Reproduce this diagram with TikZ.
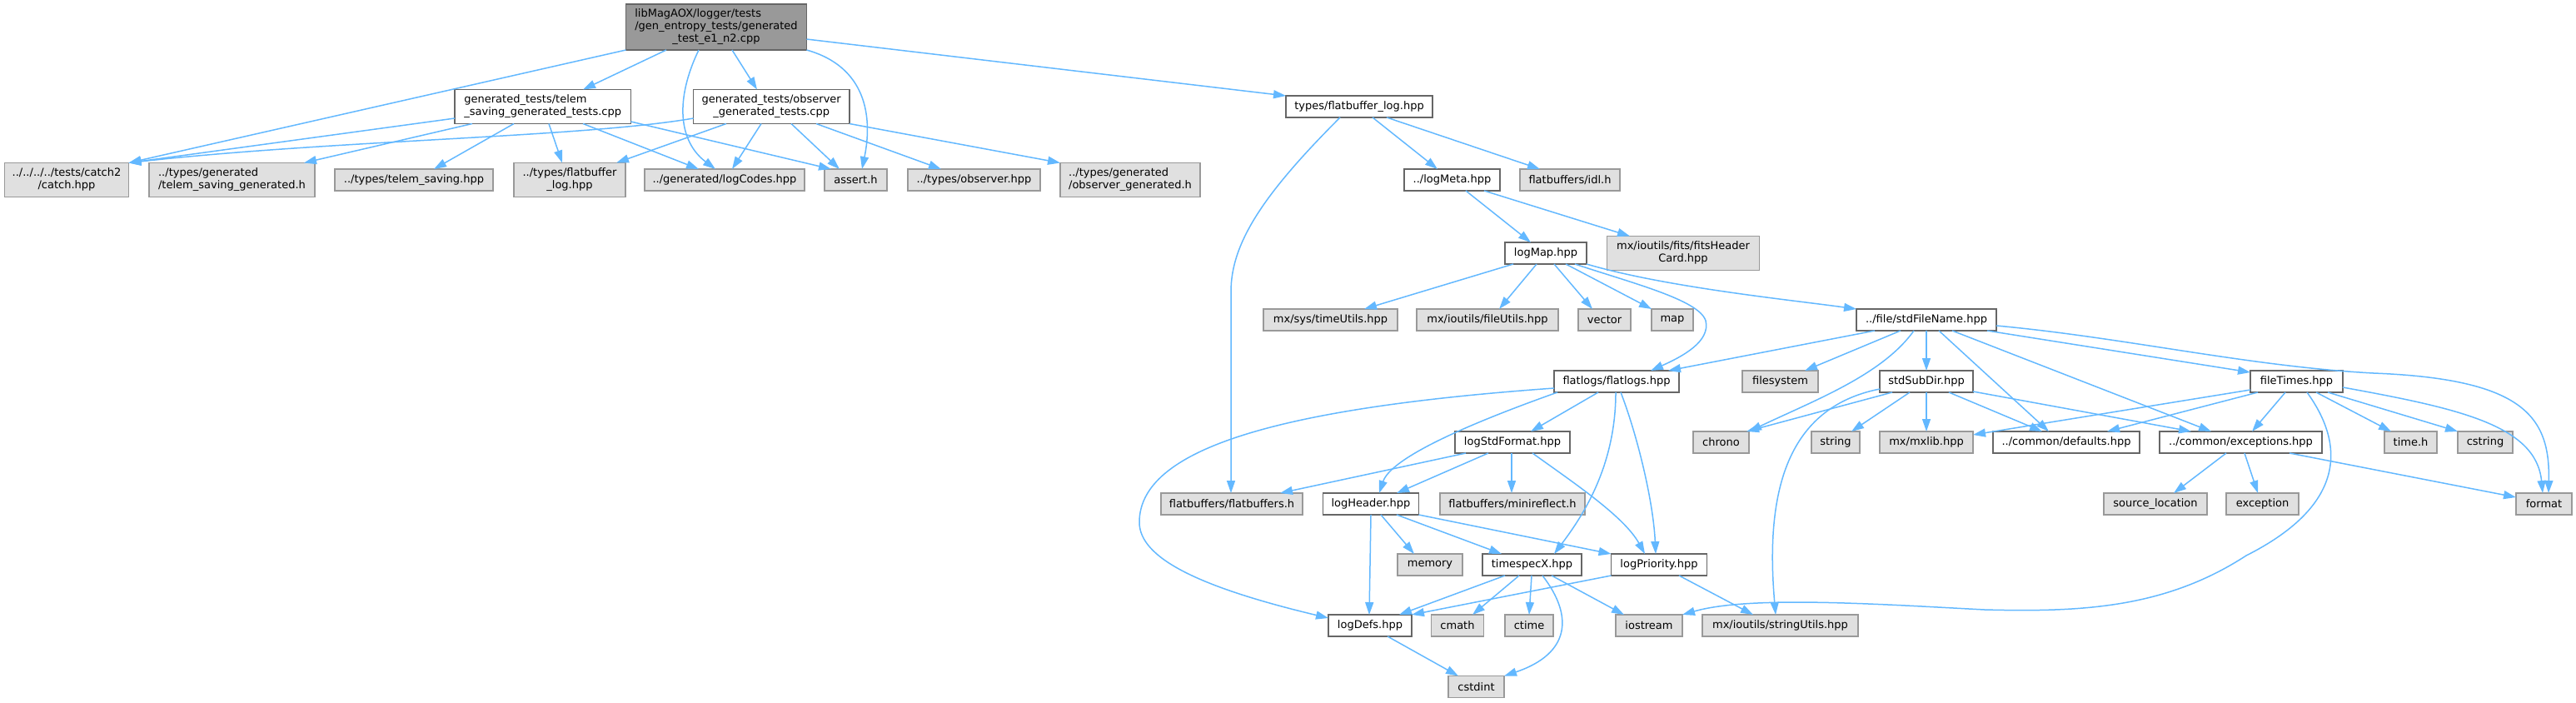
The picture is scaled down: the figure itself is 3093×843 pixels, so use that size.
\documentclass[tikz,border=0pt]{standalone}
\usepackage{fontspec}
\setmainfont{DejaVu Sans}
\usetikzlibrary{arrows.meta}
\definecolor{edgec}{HTML}{63B8FF}
\definecolor{gfill}{HTML}{E0E0E0}
\definecolor{gdraw}{HTML}{999999}
\definecolor{wdraw}{HTML}{666666}
\newcommand\twol[2]{\begin{tabular}{@{}l@{}}#1\\\multicolumn{1}{@{}c@{}}{#2}\end{tabular}}
\newcommand\threel[3]{\begin{tabular}{@{}l@{}}#1\\#2\\\multicolumn{1}{@{}c@{}}{#3}\end{tabular}}
\begin{document}
\begin{tikzpicture}[x=0.5pt,y=-0.5pt,
 base/.style={rectangle, inner sep=0pt, outer sep=0pt, line width=0.9pt, font=\fontsize{6.5}{7.5}\selectfont, text=black, align=center},
 gbox/.style={base, draw=gdraw, fill=gfill},
 wbox/.style={base, draw=wdraw, fill=white},
 mbox/.style={base, draw=wdraw, fill=gdraw},
 sz/.style 2 args={minimum width=#1*0.5pt, minimum height=#2*0.5pt},
 conn/.style={draw=edgec, line width=0.75pt, -{Triangle[length=7.5pt,width=5pt]}}]
\useasboundingbox (0,0) rectangle (3093,843);
% nodes
\node[mbox, sz={217}{55}] (main) at (860,32.5) {\threel{libMagAOX/logger/tests}{/gen\_entropy\_tests/generated}{\_test\_e1\_n2.cpp}};
\node[wbox, sz={211.5}{41}] (telem) at (651.75,128) {\twol{generated\_tests/telem}{\_saving\_generated\_tests.cpp}};
\node[wbox, sz={187.5}{41}] (observer) at (926.25,128) {\twol{generated\_tests/observer}{\_generated\_tests.cpp}};
\node[wbox, sz={176}{26}] (fbl) at (1632,128) {types/flatbuffer\_log.hpp};
\node[gbox, sz={149}{41}] (catch) at (80,216) {\twol{../../../../tests/catch2}{/catch.hpp}};
\node[gbox, sz={199}{41}] (telemGenH) at (278.5,216) {\twol{../types/generated}{/telem\_saving\_generated.h}};
\node[gbox, sz={190}{26}] (telemSaving) at (497,216) {../types/telem\_saving.hpp};
\node[gbox, sz={134}{41}] (fblTwo) at (684,216) {\twol{../types/flatbuffer}{\_log.hpp}};
\node[gbox, sz={192}{26}] (logCodes) at (870,216) {../generated/logCodes.hpp};
\node[gbox, sz={75}{26}] (assert) at (1027.5,216) {assert.h};
\node[gbox, sz={159}{26}] (observerHpp) at (1169.5,216) {../types/observer.hpp};
\node[gbox, sz={168}{41}] (observerGenH) at (1357,216) {\twol{../types/generated}{/observer\_generated.h}};
\node[wbox, sz={115}{26}] (logMeta) at (1743.5,216) {../logMeta.hpp};
\node[gbox, sz={120}{26}] (idl) at (1885,216) {flatbuffers/idl.h};
\node[wbox, sz={98}{26}] (logMap) at (1856,304) {logMap.hpp};
\node[gbox, sz={183}{41}] (fitsHeader) at (2021,304) {\twol{mx/ioutils/fits/fitsHeader}{Card.hpp}};
\node[gbox, sz={161}{26}] (timeUtils) at (1597.5,384) {mx/sys/timeUtils.hpp};
\node[gbox, sz={170}{26}] (fileUtils) at (1786,384) {mx/ioutils/fileUtils.hpp};
\node[gbox, sz={63}{26}] (vector) at (1926.5,384) {vector};
\node[gbox, sz={50}{26}] (map) at (2008,384) {map};
\node[wbox, sz={168}{26}] (stdFileName) at (2313,384) {../file/stdFileName.hpp};
\node[wbox, sz={150}{26}] (flatlogs) at (1941,458) {flatlogs/flatlogs.hpp};
\node[gbox, sz={91}{26}] (filesystem) at (2137.5,458) {filesystem};
\node[wbox, sz={112}{26}] (stdSubDir) at (2313,458) {stdSubDir.hpp};
\node[wbox, sz={111}{26}] (fileTimes) at (2757.5,458) {fileTimes.hpp};
\node[wbox, sz={138}{26}] (logStdFormat) at (1816,531) {logStdFormat.hpp};
\node[gbox, sz={67}{26}] (chrono) at (2066.5,531) {chrono};
\node[gbox, sz={58}{26}] (string) at (2204,531) {string};
\node[gbox, sz={112}{26}] (mxlib) at (2313,531) {mx/mxlib.hpp};
\node[wbox, sz={176}{26}] (defaults) at (2481,531) {../common/defaults.hpp};
\node[wbox, sz={195}{26}] (exceptions) at (2690.5,531) {../common/exceptions.hpp};
\node[gbox, sz={63}{26}] (timeh) at (2894.5,531) {time.h};
\node[gbox, sz={66}{26}] (cstring) at (2984,531) {cstring};
\node[gbox, sz={170}{26}] (flatbuffersH) at (1479,605) {flatbuffers/flatbuffers.h};
\node[wbox, sz={115}{26}] (logHeader) at (1646,605) {logHeader.hpp};
\node[gbox, sz={174}{26}] (minireflect) at (1816,605) {flatbuffers/minireflect.h};
\node[gbox, sz={124}{26}] (sourceLocation) at (2588,605) {source\_location};
\node[gbox, sz={87}{26}] (exception) at (2716.5,605) {exception};
\node[gbox, sz={67}{26}] (format) at (3054.5,605) {format};
\node[gbox, sz={78}{26}] (memory) at (1717,678) {memory};
\node[wbox, sz={119}{26}] (timespecX) at (1839.5,678) {timespecX.hpp};
\node[wbox, sz={115}{26}] (logPriority) at (1992,678) {logPriority.hpp};
\node[wbox, sz={100}{26}] (logDefs) at (1645,751) {logDefs.hpp};
\node[gbox, sz={63}{26}] (cmath) at (1750,751) {cmath};
\node[gbox, sz={58}{26}] (ctime) at (1836,751) {ctime};
\node[gbox, sz={80}{26}] (iostream) at (1980,751) {iostream};
\node[gbox, sz={187}{26}] (stringUtils) at (2137.5,751) {mx/ioutils/stringUtils.hpp};
\node[gbox, sz={67}{26}] (cstdint) at (1772.5,824.5) {cstdint};
% edges from main
\draw[conn] (main.south west) -- (catch.north east);
\draw[conn] (main.south-|800,0) -- (telem.north-|700,0);
\draw[conn] (main.south-|839,0) .. controls (810,120) and (815,170) .. (logCodes.north-|859,0);
\draw[conn] (main.south-|879,0) -- (observer.north-|909,0);
\draw[conn] (main.south east) .. controls (1040,80) and (1048,140) .. (assert.north-|1035,0);
\draw[conn] (main.east|-0,47) -- (fbl.north west);
% telem
\draw[conn] (telem.west|-0,142) -- (catch.north east);
\draw[conn] (telem.south-|567,0) -- (telemGenH.north-|365,0);
\draw[conn] (telem.south-|617,0) -- (telemSaving.north-|521,0);
\draw[conn] (telem.south-|659,0) -- (fblTwo.north-|675,0);
\draw[conn] (telem.south-|700,0) -- (logCodes.north-|839,0);
\draw[conn] (telem.east|-0,146) -- (assert.north-|998,0);
% observer
\draw[conn] (observer.west|-0,142) .. controls (700,165) and (400,168) .. (catch.north east);
\draw[conn] (observer.south-|872,0) -- (fblTwo.north-|740,0);
\draw[conn] (observer.south-|914,0) -- (logCodes.north-|879,0);
\draw[conn] (observer.south-|950,0) -- (assert.north-|1008,0);
\draw[conn] (observer.south-|980,0) -- (observerHpp.north-|1130,0);
\draw[conn] (observer.south east) -- (observerGenH.north west);
% types/flatbuffer_log
\draw[conn] (fbl.south-|1609,0) .. controls (1520,230) and (1478,290) .. (1478,350) -- (flatbuffersH.north-|1478,0);
\draw[conn] (fbl.south-|1648,0) -- (logMeta.north-|1726,0);
\draw[conn] (fbl.south-|1665,0) -- (idl.north-|1849,0);
% logMeta
\draw[conn] (logMeta.south-|1760,0) -- (logMap.north-|1838,0);
\draw[conn] (logMeta.south-|1782,0) -- (fitsHeader.north-|1957,0);
% logMap
\draw[conn] (logMap.south-|1817,0) -- (timeUtils.north-|1638,0);
\draw[conn] (logMap.south-|1845,0) -- (fileUtils.north-|1800,0);
\draw[conn] (logMap.south-|1866,0) -- (vector.north-|1912,0);
\draw[conn] (logMap.south-|1880,0) -- (map.north west);
\draw[conn] (logMap.south-|1891,0) .. controls (1960,340) and (2040,360) .. (2048,385) .. controls (2054,410) and (2020,428) .. (flatlogs.north-|1982,0);
\draw[conn] (logMap.south east) .. controls (2000,345) and (2150,360) .. (stdFileName.north west);
% stdFileName
\draw[conn] (stdFileName.south-|2251,0) -- (flatlogs.north-|2003,0);
\draw[conn] (stdFileName.south-|2282,0) -- (filesystem.north-|2167,0);
\draw[conn] (stdFileName.south-|2298,0) .. controls (2260,450) and (2180,480) .. (chrono.north-|2100,0);
\draw[conn] (stdFileName.south) -- (stdSubDir.north);
\draw[conn] (stdFileName.south-|2328,0) -- (defaults.north-|2460,0);
\draw[conn] (stdFileName.south-|2344,0) -- (exceptions.north-|2655,0);
\draw[conn] (stdFileName.south-|2386,0) -- (fileTimes.west|-0,447);
\draw[conn] (stdFileName.east|-0,391) .. controls (2550,405) and (2700,440) .. (2850,448) .. controls (3030,455) and (3062,500) .. (format.north-|3060,0);
% flatlogs
\draw[conn] (flatlogs.west|-0,466) .. controls (1530,490) and (1368,540) .. (1368,627) .. controls (1368,670) and (1440,705) .. (logDefs.west|-0,742);
\draw[conn] (flatlogs.south-|1870,0) .. controls (1760,510) and (1670,550) .. (logHeader.north-|1656,0);
\draw[conn] (flatlogs.south-|1919,0) -- (logStdFormat.north-|1838,0);
\draw[conn] (flatlogs.south-|1940,0) .. controls (1940,560) and (1900,620) .. (timespecX.north-|1866,0);
\draw[conn] (flatlogs.south-|1946,0) .. controls (1965,520) and (1985,600) .. (logPriority.north-|1988,0);
% logStdFormat
\draw[conn] (logStdFormat.south-|1760,0) -- (flatbuffersH.north-|1537,0);
\draw[conn] (logStdFormat.south-|1787,0) -- (logHeader.north-|1677,0);
\draw[conn] (logStdFormat.south-|1815,0) -- (minireflect.north-|1815,0);
\draw[conn] (logStdFormat.south-|1840,0) .. controls (1890,580) and (1950,620) .. (logPriority.north-|1975,0);
% logHeader
\draw[conn] (logHeader.south-|1646,0) -- (logDefs.north-|1644,0);
\draw[conn] (logHeader.south-|1658,0) -- (memory.north-|1698,0);
\draw[conn] (logHeader.south-|1677,0) -- (timespecX.north-|1803,0);
\draw[conn] (logHeader.south east) -- (logPriority.north west);
% timespecX
\draw[conn] (timespecX.south-|1807,0) -- (logDefs.north-|1680,0);
\draw[conn] (timespecX.south-|1824,0) -- (cmath.north-|1768,0);
\draw[conn] (timespecX.south-|1839,0) -- (ctime.north-|1836,0);
\draw[conn] (timespecX.south-|1852,0) .. controls (1890,740) and (1885,785) .. (cstdint.north east);
\draw[conn] (timespecX.south-|1863,0) -- (iostream.north-|1950,0);
% logPriority
\draw[conn] (logPriority.south west) -- (logDefs.north east);
\draw[conn] (logPriority.south-|2016,0) -- (stringUtils.north-|2105,0);
% logDefs
\draw[conn] (logDefs.south-|1666,0) -- (cstdint.north-|1751,0);
% stdSubDir
\draw[conn] (stdSubDir.south-|2272,0) -- (chrono.north-|2097,0);
\draw[conn] (stdSubDir.west|-0,467) .. controls (2140,490) and (2120,600) .. (stringUtils.north-|2132,0);
\draw[conn] (stdSubDir.south-|2293,0) -- (string.north-|2223,0);
\draw[conn] (stdSubDir.south) -- (mxlib.north);
\draw[conn] (stdSubDir.south-|2340,0) -- (defaults.north-|2452,0);
\draw[conn] (stdSubDir.east|-0,470) -- (exceptions.north-|2631,0);
% fileTimes
\draw[conn] (fileTimes.west|-0,468) -- (mxlib.east|-0,522);
\draw[conn] (fileTimes.south-|2711,0) -- (defaults.north-|2530,0);
\draw[conn] (fileTimes.south-|2744,0) -- (exceptions.north-|2704,0);
\draw[conn] (fileTimes.south-|2770,0) .. controls (2820,540) and (2810,610) .. (2697,667) .. controls (2600,730) and (2500,735) .. (2383,732) .. controls (2250,725) and (2100,715) .. (iostream.north east);
\draw[conn] (fileTimes.south-|2781,0) -- (timeh.north-|2871,0);
\draw[conn] (fileTimes.south-|2795,0) -- (cstring.north west);
\draw[conn] (fileTimes.east|-0,465) .. controls (2950,490) and (3045,510) .. (format.north-|3053,0);
% exceptions
\draw[conn] (exceptions.south-|2673,0) -- (sourceLocation.north-|2610,0);
\draw[conn] (exceptions.south-|2695,0) -- (exception.north-|2711,0);
\draw[conn] (exceptions.south-|2749,0) -- (format.west|-0,597);
\end{tikzpicture}
\end{document}
